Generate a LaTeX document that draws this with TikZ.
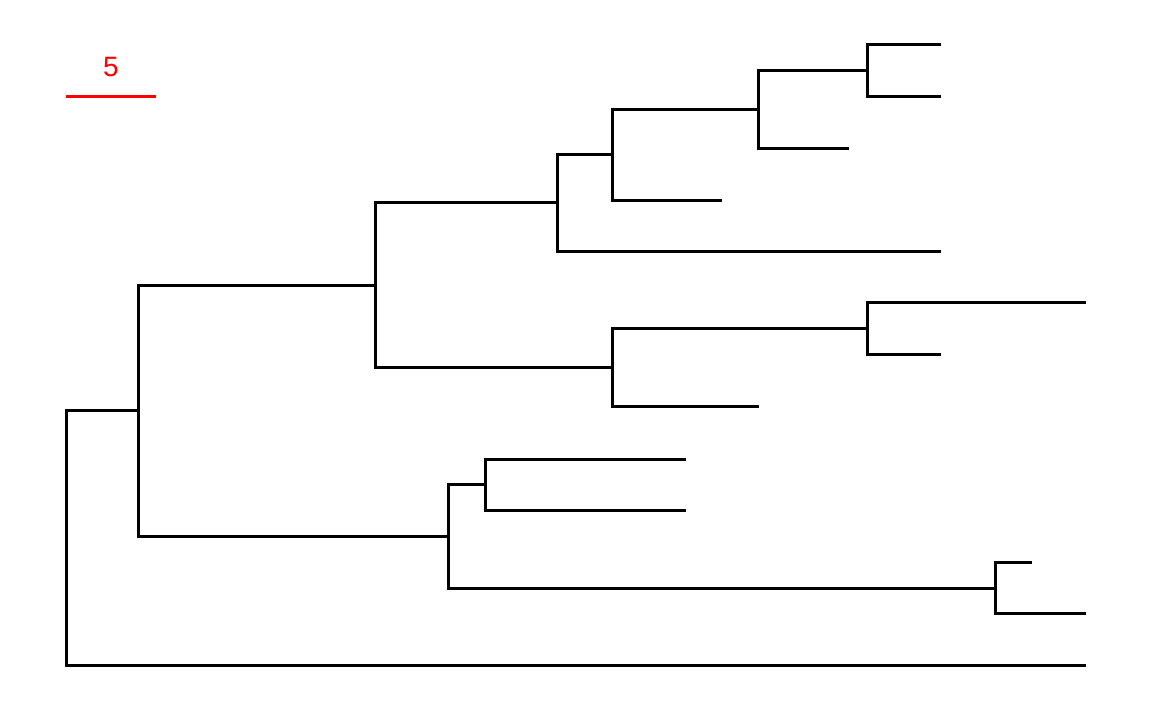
\documentclass[tikz,border=0pt]{standalone}
\usepackage{fontspec}
\setmainfont{Liberation Sans}
\begin{document}
\begin{tikzpicture}[x=1pt,y=-1pt,
  branch/.style={draw=black,line width=3pt,line join=miter},
  scalebar/.style={draw=red,line width=3pt},
  scalelabel/.style={text=red,font=\fontsize{28}{30}\selectfont,inner sep=0pt}]
\useasboundingbox (0,0) rectangle (1152,711);
% internal nodes
\coordinate (r) at (66,537);
\coordinate (A) at (138,411);
\coordinate (B) at (375,286);
\coordinate (C) at (557,203);
\coordinate (D) at (612,155);
\coordinate (E) at (758,110);
\coordinate (F) at (867,71);
\coordinate (G) at (612,368);
\coordinate (H) at (867,329);
\coordinate (I) at (448,536);
\coordinate (J) at (485,484);
\coordinate (K) at (995,588);
% leaves
\coordinate (l1) at (941,45);
\coordinate (l2) at (941,97);
\coordinate (l3) at (849,149);
\coordinate (l4) at (722,201);
\coordinate (l5) at (941,252);
\coordinate (l6) at (1086,303);
\coordinate (l7) at (941,355);
\coordinate (l8) at (759,407);
\coordinate (l9) at (686,459);
\coordinate (l10) at (686,510);
\coordinate (l11) at (1032,562);
\coordinate (l12) at (1086,613);
\coordinate (l13) at (1086,665);
% branches
\path[branch] (r) |- (A) (r) |- (l13);
\path[branch] (A) |- (B) (A) |- (I);
\path[branch] (B) |- (C) (B) |- (G);
\path[branch] (C) |- (D) (C) |- (l5);
\path[branch] (D) |- (E) (D) |- (l4);
\path[branch] (E) |- (F) (E) |- (l3);
\path[branch] (F) |- (l1) (F) |- (l2);
\path[branch] (G) |- (H) (G) |- (l8);
\path[branch] (H) |- (l6) (H) |- (l7);
\path[branch] (I) |- (J) (I) |- (K);
\path[branch] (J) |- (l9) (J) |- (l10);
\path[branch] (K) |- (l11) (K) |- (l12);
% scale bar
\coordinate (s1) at (66,97);
\coordinate (s2) at (156,97);
\path[scalebar] (s1) -- (s2);
\node[scalelabel] (slab) at (111,67) {5};
\end{tikzpicture}
\end{document}
